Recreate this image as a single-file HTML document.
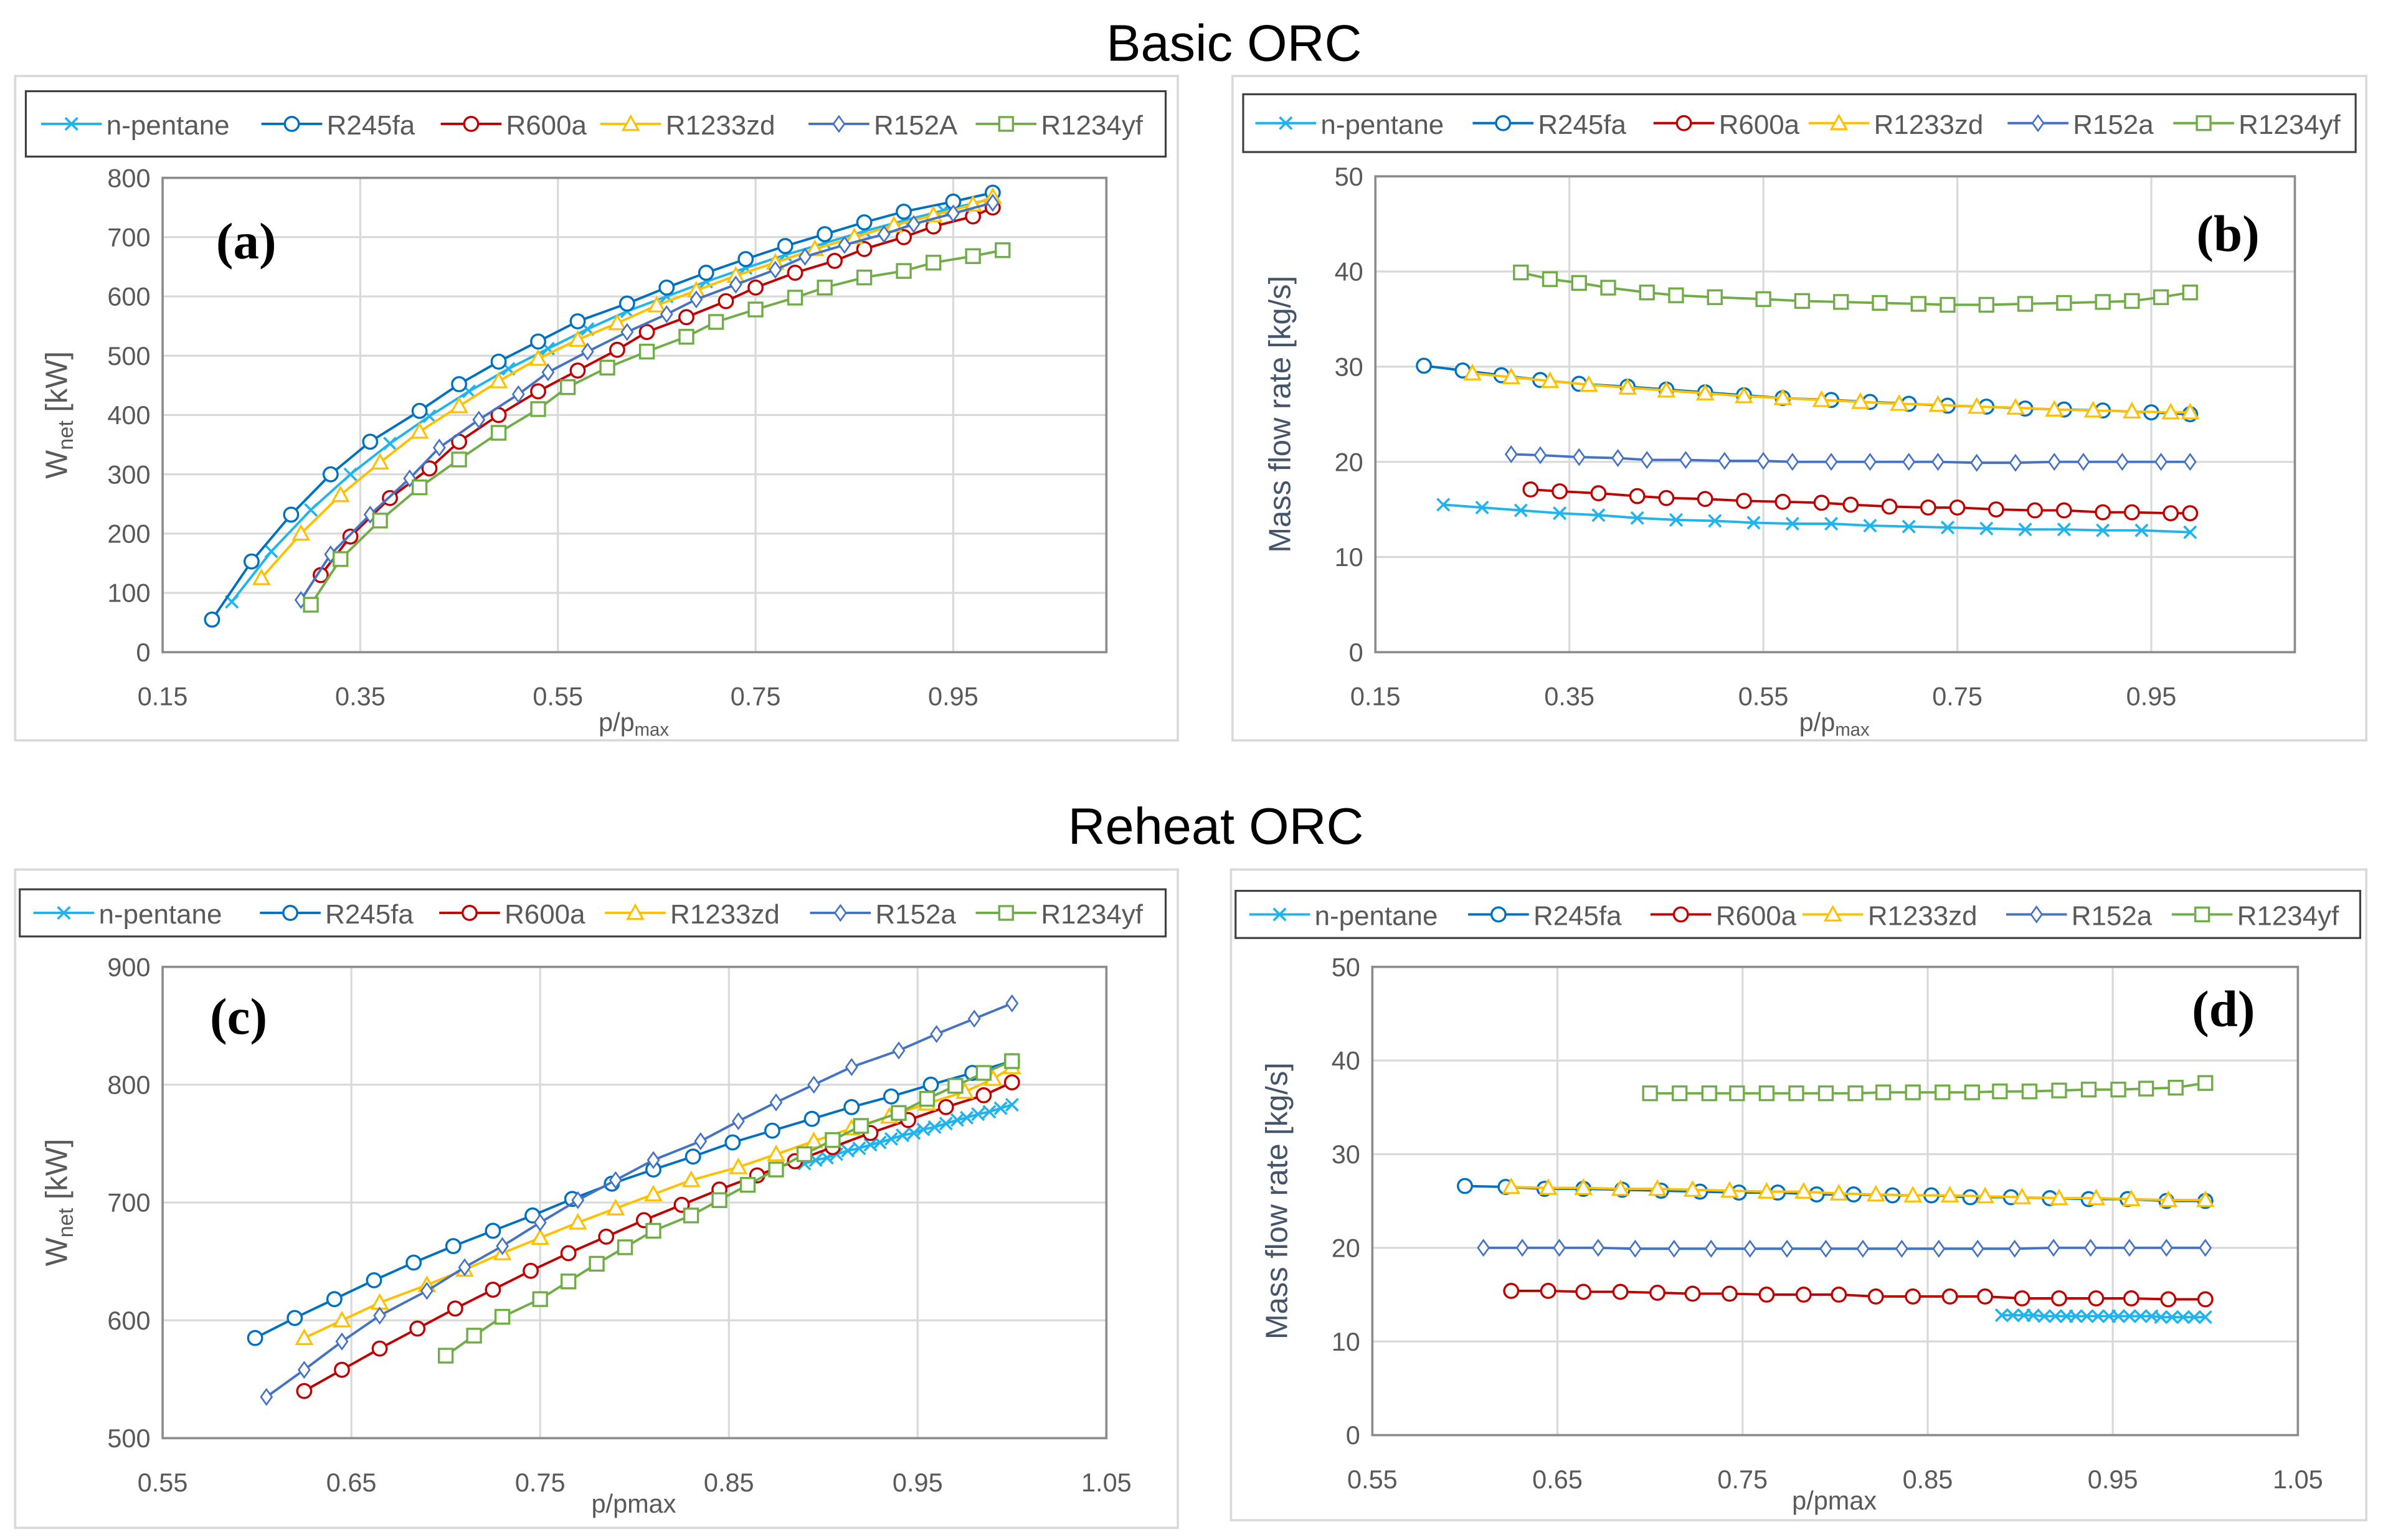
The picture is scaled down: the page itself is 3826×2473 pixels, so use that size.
<!DOCTYPE html>
<html><head><meta charset="utf-8">
<style>
html,body{margin:0;padding:0;background:#fff;}
svg{display:block;}
text{font-family:"Liberation Sans",sans-serif;}
</style></head>
<body>
<svg id="fig" width="3826" height="2473" viewBox="0 0 1568 1013" preserveAspectRatio="none" xmlns="http://www.w3.org/2000/svg">
<text x="812" y="40" text-anchor="middle" font-size="34" fill="#000">Basic ORC</text>
<text x="800" y="555" text-anchor="middle" font-size="34" fill="#000">Reheat ORC</text>
</svg>
<script>
// ---------- Panel (a) data: net power, basic ORC ----------
const aPentX=[0.22,0.26,0.30,0.34,0.38,0.42,0.46,0.50,0.54,0.58,0.62,0.66,0.70,0.74,0.78,0.82,0.86,0.90,0.94,0.99];
const aPentY=[85,170,240,300,352,398,440,478,512,545,575,600,625,648,670,690,710,728,745,765];
const a245X=[0.20,0.24,0.28,0.32,0.36,0.41,0.45,0.49,0.53,0.57,0.62,0.66,0.70,0.74,0.78,0.82,0.86,0.90,0.95,0.99];
const a245Y=[55,153,232,300,355,407,452,490,524,558,588,615,640,663,685,705,725,743,760,775];
const a600X=[0.31,0.34,0.38,0.42,0.45,0.49,0.53,0.57,0.61,0.64,0.68,0.72,0.75,0.79,0.83,0.86,0.90,0.93,0.97,0.99];
const a600Y=[130,195,260,310,355,400,440,475,510,540,565,592,615,640,660,680,700,718,735,750];
const a1233X=[0.25,0.29,0.33,0.37,0.41,0.45,0.49,0.53,0.57,0.61,0.65,0.69,0.73,0.77,0.81,0.85,0.89,0.93,0.97,0.99];
const a1233Y=[125,200,265,320,372,415,457,495,527,555,585,610,635,657,680,700,720,737,755,768];
const a152X=[0.29,0.32,0.36,0.40,0.43,0.47,0.51,0.54,0.58,0.62,0.66,0.69,0.73,0.77,0.80,0.84,0.88,0.91,0.95,0.99];
const a152Y=[88,165,232,293,345,392,435,472,507,540,570,595,620,645,667,687,705,722,740,758];
const a1234X=[0.30,0.33,0.37,0.41,0.45,0.49,0.53,0.56,0.60,0.64,0.68,0.71,0.75,0.79,0.82,0.86,0.90,0.93,0.97,1.00];
const a1234Y=[80,157,222,278,325,370,410,447,480,507,532,557,578,598,615,632,643,657,668,678];
// ---------- Panel (b) data: mass flow, basic ORC ----------
const bPentX=[0.22,0.26,0.30,0.34,0.38,0.42,0.46,0.50,0.54,0.58,0.62,0.66,0.70,0.74,0.78,0.82,0.86,0.90,0.94,0.99];
const bPentY=[15.5,15.2,14.9,14.6,14.4,14.1,13.9,13.8,13.6,13.5,13.5,13.3,13.2,13.1,13.0,12.9,12.9,12.8,12.8,12.6];
const b245X=[0.20,0.24,0.28,0.32,0.36,0.41,0.45,0.49,0.53,0.57,0.62,0.66,0.70,0.74,0.78,0.82,0.86,0.90,0.95,0.99];
const b245Y=[30.1,29.6,29.1,28.6,28.2,27.9,27.6,27.3,27.0,26.7,26.5,26.3,26.1,25.9,25.8,25.6,25.5,25.4,25.2,25.0];
const b600X=[0.31,0.34,0.38,0.42,0.45,0.49,0.53,0.57,0.61,0.64,0.68,0.72,0.75,0.79,0.83,0.86,0.90,0.93,0.97,0.99];
const b600Y=[17.1,16.9,16.7,16.4,16.2,16.1,15.9,15.8,15.7,15.5,15.3,15.2,15.2,15.0,14.9,14.9,14.7,14.7,14.6,14.6];
const b1233X=[0.25,0.29,0.33,0.37,0.41,0.45,0.49,0.53,0.57,0.61,0.65,0.69,0.73,0.77,0.81,0.85,0.89,0.93,0.97,0.99];
const b1233Y=[29.3,28.9,28.5,28.1,27.8,27.5,27.2,26.9,26.7,26.5,26.3,26.1,26.0,25.8,25.7,25.5,25.4,25.3,25.2,25.2];
const b152X=[0.29,0.32,0.36,0.40,0.43,0.47,0.51,0.55,0.58,0.62,0.66,0.70,0.73,0.77,0.81,0.85,0.88,0.92,0.96,0.99];
const b152Y=[20.8,20.7,20.5,20.4,20.2,20.2,20.1,20.1,20.0,20.0,20.0,20.0,20.0,19.9,19.9,20.0,20.0,20.0,20.0,20.0];
const b1234X=[0.30,0.33,0.36,0.39,0.43,0.46,0.50,0.55,0.59,0.63,0.67,0.71,0.74,0.78,0.82,0.86,0.90,0.93,0.96,0.99];
const b1234Y=[39.9,39.2,38.8,38.3,37.8,37.5,37.3,37.1,36.9,36.8,36.7,36.6,36.5,36.5,36.6,36.7,36.8,36.9,37.3,37.8];
// ---------- Panel (c) data: net power, reheat ORC ----------
const cPentX=[0.890,0.896,0.902,0.907,0.913,0.919,0.925,0.930,0.936,0.942,0.948,0.953,0.959,0.965,0.971,0.976,0.982,0.988,0.994,1.000];
const cPentY=[733,736,738,741,744,746,749,751,754,757,759,762,764,767,770,772,775,777,780,783];
const c245X=[0.599,0.620,0.641,0.662,0.683,0.704,0.725,0.746,0.767,0.788,0.810,0.831,0.852,0.873,0.894,0.915,0.936,0.957,0.979,1.000];
const c245Y=[585,602,618,634,649,663,676,689,703,716,728,739,751,761,771,781,790,800,810,820];
const c600X=[0.625,0.645,0.665,0.685,0.705,0.725,0.745,0.765,0.785,0.805,0.825,0.845,0.865,0.885,0.905,0.925,0.945,0.965,0.985,1.000];
const c600Y=[540,558,576,593,610,626,642,657,671,685,698,711,723,735,747,759,770,781,791,802];
const c1233X=[0.625,0.645,0.665,0.690,0.710,0.730,0.750,0.770,0.790,0.810,0.830,0.855,0.875,0.895,0.915,0.935,0.955,0.975,0.990,1.000];
const c1233Y=[585,600,615,630,643,657,670,683,695,707,719,730,741,752,763,773,784,794,805,815];
const c152X=[0.605,0.625,0.645,0.665,0.690,0.710,0.730,0.750,0.770,0.790,0.810,0.835,0.855,0.875,0.895,0.915,0.940,0.960,0.980,1.000];
const c152Y=[535,558,582,604,625,645,663,683,702,719,736,752,769,785,800,815,829,843,856,869];
const c1234X=[0.700,0.715,0.730,0.750,0.765,0.780,0.795,0.810,0.830,0.845,0.860,0.875,0.890,0.905,0.920,0.940,0.955,0.970,0.985,1.000];
const c1234Y=[570,587,603,618,633,648,662,676,689,702,715,728,741,753,765,776,788,799,810,820];
// ---------- Panel (d) data: mass flow, reheat ORC ----------
const dPentX=[0.890,0.896,0.902,0.907,0.913,0.919,0.925,0.930,0.936,0.942,0.948,0.953,0.959,0.965,0.971,0.976,0.982,0.988,0.994,1.000];
const dPentY=[12.8,12.8,12.8,12.8,12.7,12.7,12.7,12.7,12.7,12.7,12.7,12.7,12.7,12.7,12.7,12.6,12.6,12.6,12.6,12.6];
const d245X=[0.600,0.622,0.643,0.664,0.685,0.706,0.727,0.748,0.769,0.790,0.810,0.831,0.852,0.873,0.895,0.916,0.937,0.958,0.979,1.000];
const d245Y=[26.6,26.5,26.3,26.3,26.2,26.1,26.0,25.9,25.9,25.7,25.7,25.6,25.6,25.4,25.4,25.3,25.2,25.2,25.0,25.0];
const d600X=[0.625,0.645,0.664,0.684,0.704,0.723,0.743,0.763,0.783,0.802,0.822,0.842,0.862,0.881,0.901,0.921,0.941,0.960,0.980,1.000];
const d600Y=[15.4,15.4,15.3,15.3,15.2,15.1,15.1,15.0,15.0,15.0,14.8,14.8,14.8,14.8,14.6,14.6,14.6,14.6,14.5,14.5];
const d1233X=[0.625,0.645,0.664,0.684,0.704,0.723,0.743,0.763,0.783,0.802,0.822,0.842,0.862,0.881,0.901,0.921,0.941,0.960,0.980,1.000];
const d1233Y=[26.5,26.4,26.4,26.3,26.3,26.2,26.1,26.0,26.0,25.8,25.7,25.6,25.6,25.5,25.4,25.3,25.3,25.2,25.1,25.1];
const d152X=[0.610,0.631,0.651,0.672,0.692,0.713,0.733,0.754,0.774,0.795,0.815,0.836,0.856,0.877,0.897,0.918,0.938,0.959,0.979,1.000];
const d152Y=[20.0,20.0,20.0,20.0,19.9,19.9,19.9,19.9,19.9,19.9,19.9,19.9,19.9,19.9,19.9,20.0,20.0,20.0,20.0,20.0];
const d1234X=[0.700,0.716,0.732,0.747,0.763,0.779,0.795,0.811,0.826,0.842,0.858,0.874,0.889,0.905,0.921,0.937,0.953,0.968,0.984,1.000];
const d1234Y=[36.5,36.5,36.5,36.5,36.5,36.5,36.5,36.5,36.6,36.6,36.6,36.6,36.7,36.7,36.8,36.9,36.9,37.0,37.1,37.6];
// ---------- Tick labels ----------
const xTicksBasic=[0.15,0.35,0.55,0.75,0.95];
const xTickLabelsBasic=["0.15","0.35","0.55","0.75","0.95"];
const xTicksReheat=[0.55,0.65,0.75,0.85,0.95,1.05];
const xTickLabelsReheat=["0.55","0.65","0.75","0.85","0.95","1.05"];
const yTicksPowerA=[0,100,200,300,400,500,600,700,800];
const yTicksPowerC=[500,600,700,800,900];
const yTicksMass=[0,10,20,30,40,50];

const NS="http://www.w3.org/2000/svg";
const svg=document.getElementById('fig');
function el(tag,attrs,parent){const e=document.createElementNS(NS,tag);for(const k in attrs)e.setAttribute(k,attrs[k]);(parent||svg).appendChild(e);return e;}

const COL={pent:"#1fb4ee",r245:"#0070c0",r600:"#c00000",r1233:"#ffc000",r152:"#4472c4",r1234:"#70ad47"};
function marker(g,type,x,y,c){
  let m;
  if(type==="x"){m=el('path',{d:`M${x-4},${y-4}L${x+4},${y+4}M${x-4},${y+4}L${x+4},${y-4}`,stroke:c,'stroke-width':1.5,fill:'none'},g);}
  else if(type==="o"){m=el('circle',{cx:x,cy:y,r:4.6,stroke:c,'stroke-width':1.4,fill:'#fff'},g);}
  else if(type==="t"){m=el('path',{d:`M${x},${y-5}L${x+5},${y+4}L${x-5},${y+4}Z`,stroke:c,'stroke-width':1.3,fill:'#fff'},g);}
  else if(type==="d"){m=el('path',{d:`M${x},${y-5}L${x+3.6},${y}L${x},${y+5}L${x-3.6},${y}Z`,stroke:c,'stroke-width':1.1,fill:'#fff'},g);}
  else {m=el('rect',{x:x-4.5,y:y-4.5,width:9,height:9,stroke:c,'stroke-width':1.4,fill:'#fff'},g);}
  return m;
}
function drawPanel(p){
  const g=el('g',{});
  
  
  const fr=el('rect',{x:p.frame[0],y:p.frame[1],width:p.frame[2]-p.frame[0],height:p.frame[3]-p.frame[1],fill:'#fff',stroke:'#d9d9d9','stroke-width':1.5},g);
  
  
  const xs=v=>p.L+(v-p.xmin)/(p.xmax-p.xmin)*(p.R-p.L);
  const ys=v=>p.B-(v-p.ymin)/(p.ymax-p.ymin)*(p.B-p.T);
  p.yt.forEach(v=>{const l=el('line',{x1:p.L,x2:p.R,y1:ys(v),y2:ys(v),stroke:'#d9d9d9','stroke-width':1.3},g);
    
    
    const t=el('text',{x:p.L-8,y:ys(v)+6,'text-anchor':'end','font-size':17,fill:'#595959'},g);t.textContent=v;
    
    });
  p.xt.forEach((v,i)=>{const l=el('line',{x1:xs(v),x2:xs(v),y1:p.T,y2:p.B,stroke:'#d9d9d9','stroke-width':1.3},g);
    
    
    const t=el('text',{x:xs(v),y:p.B+35,'text-anchor':'middle','font-size':17,fill:'#595959'},g);t.textContent=p.xl[i];
    
    });
  const bx=el('rect',{x:p.L,y:p.T,width:p.R-p.L,height:p.B-p.T,fill:'none',stroke:'#8c8c8c','stroke-width':1.5},g);
  
  
  p.series.forEach(s=>{
    const sg=el('g',{},g);
    
    
    const pts=s.x.map((v,i)=>xs(v).toFixed(2)+','+ys(s.y[i]).toFixed(2)).join(' ');
    el('polyline',{points:pts,fill:'none',stroke:s.c,'stroke-width':1.6},sg);
    s.x.forEach((v,i)=>{const m=marker(sg,s.m,xs(v),ys(s.y[i]),s.c);
      
      });
  });
  const lg=el('g',{},g);
  
  
  el('rect',{x:p.leg[0],y:p.leg[1],width:p.leg[2]-p.leg[0],height:p.leg[3]-p.leg[1],fill:'#fff',stroke:'#404040','stroke-width':1.3},lg);
  const ly=(p.leg[1]+p.leg[3])/2;
  p.series.forEach((s,i)=>{
    const lx=p.legX[i];
    const eg=el('g',{},lg);
    
    
    el('line',{x1:lx,x2:lx+40,y1:ly,y2:ly,stroke:s.c,'stroke-width':1.6},eg);
    marker(eg,s.m,lx+20,ly,s.c);
    const t=el('text',{x:lx+43,y:ly+7,'font-size':18,fill:'#595959'},eg);t.textContent=s.label;
  });
  const yt=el('text',{transform:`translate(${p.ytx},${(p.T+p.B)/2}) rotate(-90)`,'text-anchor':'middle','font-size':20,fill:p.ytc},g);
  
  
  if(p.power){yt.innerHTML='W<tspan font-size="14" dy="4">net</tspan><tspan dy="-4"> [kW]</tspan>';}
  else yt.textContent='Mass flow rate [kg/s]';
  const xt=el('text',{x:p.xtx,y:p.xty,'text-anchor':'middle','font-size':17,fill:'#595959'},g);
  
  
  xt.innerHTML=p.subMax?'p/p<tspan font-size="12" dy="3">max</tspan>':'p/pmax';
  const pl=el('text',{x:p.lab[0],y:p.lab[1],'text-anchor':'middle','font-size':34,'font-weight':'bold',fill:'#000',style:'font-family:"Liberation Serif",serif'},g);
  pl.textContent=p.labText;
  
  
}
function mk(px,py,names){
  const cols=[COL.pent,COL.r245,COL.r600,COL.r1233,COL.r152,COL.r1234];
  const mks=['x','o','o','t','d','s'];
  return cols.map((c,i)=>({name:['n-pentane','R245fa','R600a','R1233zd','R152a','R1234yf'][i],label:names[i],x:px[i],y:py[i],c:c,m:mks[i]}));
}
drawPanel({id:'panel-a',frame:[10,50,775,487],leg:[17,60,767,103],L:107,R:728,T:117,B:429,xmin:0.15,xmax:1.105,ymin:0,ymax:800,
  xt:xTicksBasic,xl:xTickLabelsBasic,yt:yTicksPowerA,legX:[27,172,290,395,532,642],ytx:44,ytc:'#595959',power:true,xtx:417,xty:481,subMax:true,lab:[162,170],labText:'(a)',
  series:mk([aPentX,a245X,a600X,a1233X,a152X,a1234X],[aPentY,a245Y,a600Y,a1233Y,a152Y,a1234Y],['n-pentane','R245fa','R600a','R1233zd','R152A','R1234yf'])});
drawPanel({id:'panel-b',frame:[811,50,1557,487],leg:[818,62,1550,100],L:905,R:1510,T:116,B:429,xmin:0.15,xmax:1.098,ymin:0,ymax:50,
  xt:xTicksBasic,xl:xTickLabelsBasic,yt:yTicksMass,legX:[826,969,1088,1190,1321,1430],ytx:849,ytc:'#44546a',power:false,xtx:1207,xty:481,subMax:true,lab:[1466,165],labText:'(b)',
  series:mk([bPentX,b245X,b600X,b1233X,b152X,b1234X],[bPentY,b245Y,b600Y,b1233Y,b152Y,b1234Y],['n-pentane','R245fa','R600a','R1233zd','R152a','R1234yf'])});
drawPanel({id:'panel-c',frame:[10,572,775,1005],leg:[13,585,767,616],L:107,R:728,T:636,B:946,xmin:0.55,xmax:1.05,ymin:500,ymax:900,
  xt:xTicksReheat,xl:xTickLabelsReheat,yt:yTicksPowerC,legX:[22,171,289,398,533,642],ytx:44,ytc:'#595959',power:true,xtx:417,xty:995,subMax:false,lab:[157,680],labText:'(c)',
  series:mk([cPentX,c245X,c600X,c1233X,c152X,c1234X],[cPentY,c245Y,c600Y,c1233Y,c152Y,c1234Y],['n-pentane','R245fa','R600a','R1233zd','R152a','R1234yf'])});
drawPanel({id:'panel-d',frame:[810,572,1557,1000],leg:[813,586,1553,617],L:903,R:1512,T:636,B:944,xmin:0.55,xmax:1.05,ymin:0,ymax:50,
  xt:xTicksReheat,xl:xTickLabelsReheat,yt:yTicksMass,legX:[822,966,1086,1186,1320,1429],ytx:847,ytc:'#44546a',power:false,xtx:1207,xty:993,subMax:false,lab:[1463,675],labText:'(d)',
  series:mk([dPentX,d245X,d600X,d1233X,d152X,d1234X],[dPentY,d245Y,d600Y,d1233Y,d152Y,d1234Y],['n-pentane','R245fa','R600a','R1233zd','R152a','R1234yf'])});
</script>
</body></html>
